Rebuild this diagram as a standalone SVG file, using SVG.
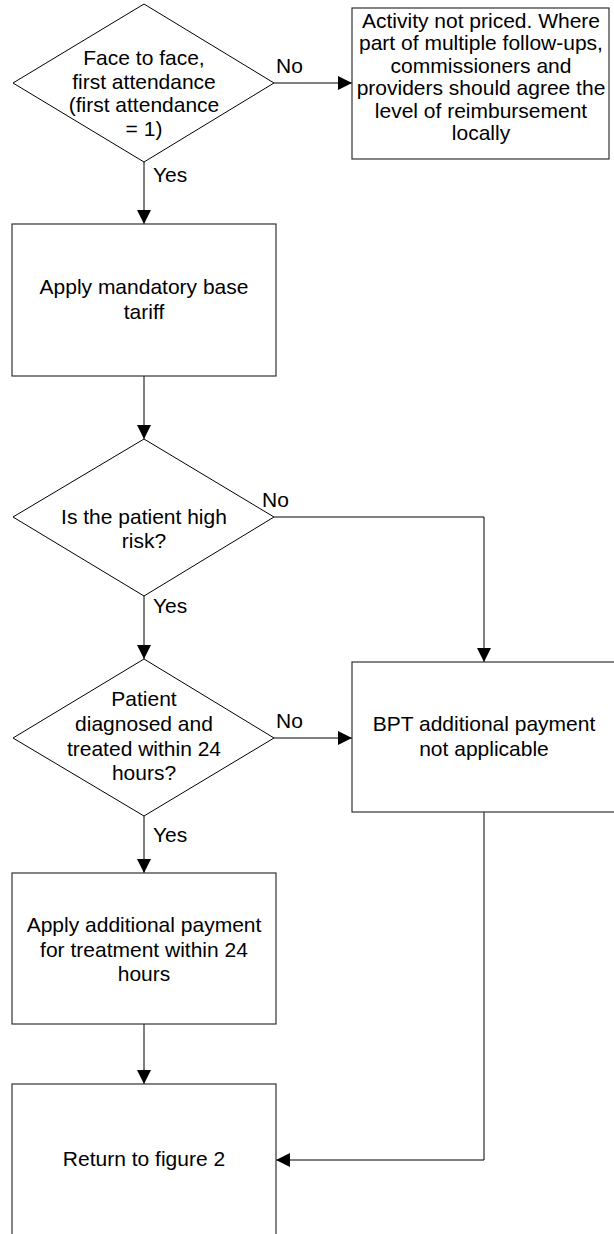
<svg xmlns="http://www.w3.org/2000/svg" width="614" height="1234" viewBox="0 0 614 1234">
<style>
.shape{fill:#fff;stroke:#000;stroke-width:1}
.box{fill:#fff;stroke:#333;stroke-width:1.2}
.t{font-family:"Liberation Sans",Arial,sans-serif;font-size:21px;fill:#000;text-anchor:middle}
.lbl{font-family:"Liberation Sans",Arial,sans-serif;font-size:21px;fill:#000;text-anchor:start}
.c{fill:none;stroke:#000;stroke-width:1}
</style>
<defs>
<marker id="arr" viewBox="0 0 14 14" refX="14" refY="7" markerWidth="14" markerHeight="14" markerUnits="userSpaceOnUse" orient="auto">
<path d="M0,0 L14,7 L0,14 z" fill="#000"/>
</marker>
</defs>
<rect width="614" height="1234" fill="#fff"/>
<g id="connectors">
<path class="c" d="M274,83 H352" marker-end="url(#arr)"/>
<path class="c" d="M144,162 V224" marker-end="url(#arr)"/>
<path class="c" d="M144,376 V439" marker-end="url(#arr)"/>
<path class="c" d="M274,517 H484 V662" marker-end="url(#arr)"/>
<path class="c" d="M144,596 V659" marker-end="url(#arr)"/>
<path class="c" d="M274,738 H352" marker-end="url(#arr)"/>
<path class="c" d="M144,816 V873" marker-end="url(#arr)"/>
<path class="c" d="M144,1024 V1084" marker-end="url(#arr)"/>
<path class="c" d="M484,812 V1160 H276" marker-end="url(#arr)"/>
<text class="lbl" x="276" y="73">No</text>
<text class="lbl" x="153" y="182">Yes</text>
<text class="lbl" x="262" y="507">No</text>
<text class="lbl" x="153" y="613">Yes</text>
<text class="lbl" x="276" y="728">No</text>
<text class="lbl" x="153" y="842">Yes</text>
</g>
<g id="d1">
<polygon class="shape" points="144,4 274,83 144,162 13,83"/>
<text class="t" x="144" y="65">Face to face,</text>
<text class="t" x="144" y="89">first attendance</text>
<text class="t" x="144" y="112">(first attendance</text>
<text class="t" x="144" y="136">= 1)</text>
</g>
<g id="notpriced">
<rect class="box" x="352" y="8" width="257" height="151"/>
<text class="t" x="481" y="28">Activity not priced. Where</text>
<text class="t" x="481" y="50">part of multiple follow-ups,</text>
<text class="t" x="481" y="73">commissioners and</text>
<text class="t" x="481" y="95">providers should agree the</text>
<text class="t" x="481" y="118">level of reimbursement</text>
<text class="t" x="481" y="140">locally</text>
</g>
<g id="basetariff">
<rect class="box" x="12" y="224" width="264" height="152"/>
<text class="t" x="144" y="294">Apply mandatory base</text>
<text class="t" x="144" y="319">tariff</text>
</g>
<g id="d2">
<polygon class="shape" points="144,439 274,517 144,596 13,517"/>
<text class="t" x="144" y="524">Is the patient high</text>
<text class="t" x="144" y="548">risk?</text>
</g>
<g id="bpt">
<rect class="box" x="352" y="662" width="264" height="150"/>
<text class="t" x="484" y="731">BPT additional payment</text>
<text class="t" x="484" y="756">not applicable</text>
</g>
<g id="d3">
<polygon class="shape" points="144,659 274,738 144,816 13,738"/>
<text class="t" x="144" y="706">Patient</text>
<text class="t" x="144" y="731">diagnosed and</text>
<text class="t" x="144" y="756">treated within 24</text>
<text class="t" x="144" y="780">hours?</text>
</g>
<g id="additional">
<rect class="box" x="12" y="873" width="264" height="151"/>
<text class="t" x="144" y="932">Apply additional payment</text>
<text class="t" x="144" y="957">for treatment within 24</text>
<text class="t" x="144" y="981">hours</text>
</g>
<g id="return">
<rect class="box" x="12" y="1084" width="264" height="152"/>
<text class="t" x="144" y="1166">Return to figure 2</text>
</g>
</svg>
